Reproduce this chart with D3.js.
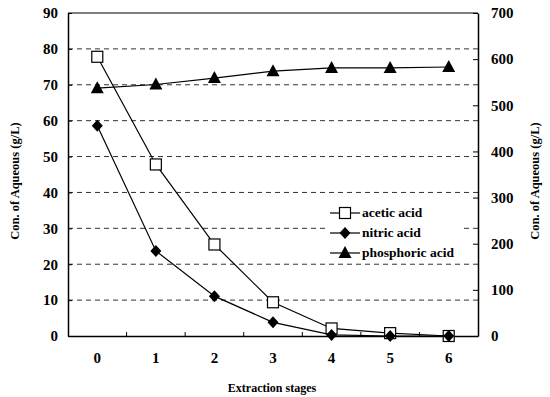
<!DOCTYPE html>
<html>
<head>
<meta charset="utf-8">
<script src="https://cdn.jsdelivr.net/npm/d3@7"></script>
<style>
  body { margin: 0; background: #fff; }
</style>
</head>
<body>
<svg id="chart" width="550" height="397"></svg>
<script>
// data
const stages = ["0", "1", "2", "3", "4", "5", "6"];
const aceticAcid = [77.8, 47.8, 25.5, 9.4, 2.1, 0.8, 0];
const nitricAcid = [58.6, 23.7, 11.1, 3.8, 0.3, 0, 0];
const phosphoricAcid = [537, 545, 559, 574, 581, 581, 583]; // right axis
const leftTicks = [0, 10, 20, 30, 40, 50, 60, 70, 80, 90];
const rightTicks = [0, 100, 200, 300, 400, 500, 600, 700];

const FONT = "'Liberation Serif', 'Times New Roman', Times, 'DejaVu Serif', serif";

const svg = d3.select("#chart");
const m = {left: 68, right: 478, top: 13, bottom: 336};

const x = d3.scaleBand().domain(stages).range([m.left, m.right]);
const yL = d3.scaleLinear().domain([0, 90]).range([m.bottom, m.top]);
const yR = d3.scaleLinear().domain([0, 700]).range([m.bottom, m.top]);
const cx = d => x(d) + x.bandwidth() / 2;

// dashed grid
svg.append("g")
  .selectAll("line")
  .data(leftTicks.filter(t => t > 0 && t < 90))
  .enter()
  .append("line")
  .attr("x1", m.left).attr("x2", m.right)
  .attr("y1", d => yL(d)).attr("y2", d => yL(d))
  .attr("stroke", "#333")
  .attr("stroke-width", 1)
  .attr("stroke-dasharray", "5,4");

// legend background hides the grid behind it
svg.append("rect")
  .attr("x", 326).attr("y", 202)
  .attr("width", 138).attr("height", 58)
  .attr("fill", "#fff");

// frame
svg.append("line").attr("x1", m.left).attr("x2", m.right).attr("y1", m.top).attr("y2", m.top)
  .attr("stroke", "#000");

// axes
const leftAxis = svg.append("g")
  .attr("transform", `translate(${m.left},0)`)
  .call(d3.axisLeft(yL).tickValues(leftTicks).tickSizeInner(-4).tickSizeOuter(0).tickPadding(10));
const rightAxis = svg.append("g")
  .attr("transform", `translate(${m.right},0)`)
  .call(d3.axisRight(yR).tickValues(rightTicks).tickSizeInner(-5).tickSizeOuter(0).tickPadding(13));
const bottomAxis = svg.append("g")
  .attr("transform", `translate(0,${m.bottom})`)
  .call(d3.axisBottom(x).tickSize(0).tickPadding(16));

[leftAxis, rightAxis, bottomAxis].forEach(g => {
  g.attr("font-family", null).attr("font-size", null);
  g.select(".domain").attr("stroke", "#000").attr("stroke-width", 1.5);
  g.selectAll("text")
    .style("font-family", FONT)
    .style("font-weight", "bold")
    .style("font-size", "15px");
});

// bottom ticks at band edges, pointing up
svg.append("g")
  .selectAll("line")
  .data(stages.slice(1))
  .enter()
  .append("line")
  .attr("x1", d => x(d)).attr("x2", d => x(d))
  .attr("y1", m.bottom).attr("y2", m.bottom - 4)
  .attr("stroke", "#000");

function label(sel, size) {
  return sel.style("font-family", FONT).style("font-weight", "bold").style("font-size", size + "px");
}

// axis titles
label(svg.append("text")
  .attr("transform", "translate(19,181) rotate(-90)")
  .attr("text-anchor", "middle")
  .text("Con. of Aqueous (g/L)"), 12.5);
label(svg.append("text")
  .attr("transform", "translate(539,181) rotate(-90)")
  .attr("text-anchor", "middle")
  .text("Con. of Aqueous (g/L)"), 12.5);
label(svg.append("text")
  .attr("x", 272).attr("y", 392)
  .attr("text-anchor", "middle")
  .text("Extraction stages"), 12);

// series
const series = [
  {name: "phosphoric acid", values: phosphoricAcid, y: yR, shape: "triangle"},
  {name: "acetic acid", values: aceticAcid, y: yL, shape: "square"},
  {name: "nitric acid", values: nitricAcid, y: yL, shape: "diamond"}
];

function drawMarker(g, shape) {
  if (shape === "square") {
    g.append("rect").attr("x", -5.5).attr("y", -5.5).attr("width", 11).attr("height", 11)
      .attr("fill", "#fff").attr("stroke", "#000").attr("stroke-width", 1.2);
  } else if (shape === "diamond") {
    g.append("path").attr("d", "M0,-6L5.5,0L0,6L-5.5,0Z").attr("fill", "#000");
  } else {
    g.append("path").attr("d", "M0,-7L6.5,5L-6.5,5Z").attr("fill", "#000");
  }
}

const line = d3.line().x(d => d[0]).y(d => d[1]);

series.forEach(s => {
  const pts = stages.map((st, i) => [cx(st), s.y(s.values[i])]);
  svg.append("path")
    .attr("d", line(pts))
    .attr("fill", "none")
    .attr("stroke", "#000")
    .attr("stroke-width", 1.2);
  pts.forEach(p => {
    const g = svg.append("g").attr("transform", `translate(${p[0]},${p[1]})`);
    drawMarker(g, s.shape);
  });
});

// legend
const legendOrder = [series[1], series[2], series[0]];
legendOrder.forEach((s, i) => {
  const ly = 213 + i * 20;
  const g = svg.append("g").attr("transform", `translate(0,${ly})`);
  g.append("line").attr("x1", 330).attr("x2", 360).attr("y1", 0).attr("y2", 0)
    .attr("stroke", "#000").attr("stroke-width", 1.2);
  drawMarker(g.append("g").attr("transform", "translate(345,0)"), s.shape);
  label(g.append("text")
    .attr("x", 362).attr("y", 4)
    .text(s.name), 13.5);
});
</script>
</body>
</html>
